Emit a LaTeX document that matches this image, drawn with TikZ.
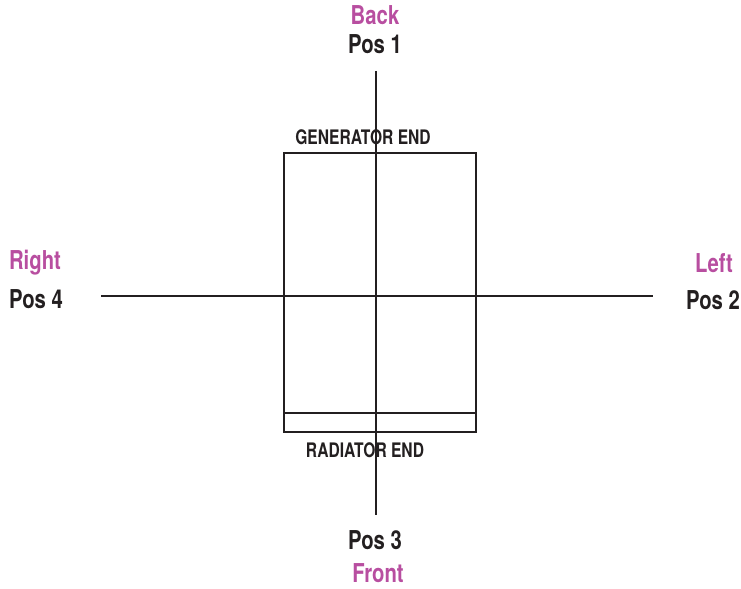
\documentclass[tikz,border=0pt]{standalone}
\usepackage{fontspec}
\setmainfont{TeX Gyre Heros}[FakeStretch=0.78]
\usetikzlibrary{positioning}
\definecolor{sidepink}{RGB}{184,78,160}
\definecolor{inkgray}{RGB}{35,31,32}

\begin{document}
\begin{tikzpicture}[
    x=0.75pt, y=-0.75pt,
    font=\bfseries,
    poslabel/.style={text=inkgray, font=\fontsize{19.5}{21}\selectfont\bfseries, inner sep=0pt},
    sidelabel/.style={text=sidepink, font=\fontsize{19.5}{21}\selectfont\bfseries, inner sep=0pt},
    endlabel/.style={text=inkgray, font=\fontsize{15}{17}\selectfont\bfseries, inner sep=0pt},
    axis/.style={draw=inkgray, line width=1.2pt},
    frame/.style={draw=inkgray, line width=1.2pt},
]
\useasboundingbox (0,0) rectangle (741,588);

% Engine outline
\node[frame, rectangle, minimum width=144pt, minimum height=209.25pt, inner sep=0pt, anchor=north west] (engine) at (283,152) {};
\coordinate (radtopL) at (283,413);
\coordinate (radtopR) at (475,413);
\draw[frame] (radtopL) -- (radtopR);

% Axis ends
\coordinate (topend) at (376,71);
\coordinate (botend) at (376,515);
\coordinate (leftend) at (101,296);
\coordinate (rightend) at (653,296);

\draw[axis] (topend) -- (botend);
\draw[axis] (leftend) -- (rightend);

% Labels
\node[endlabel] (gen) at (363,137) {GENERATOR END};
\node[endlabel] (rad) at (365,450) {RADIATOR END};

\node[poslabel] (pos1) at (375,44) {Pos 1};
\node[sidelabel] (back) at (375,15) {Back};
\node[poslabel] (pos3) at (375,540) {Pos 3};
\node[sidelabel] (front) at (378,573) {Front};
\node[poslabel] (pos4) at (36,299) {Pos 4};
\node[sidelabel] (right) at (35,263) {Right};
\node[poslabel] (pos2) at (713,300) {Pos 2};
\node[sidelabel] (left) at (714,263) {Left};

\end{tikzpicture}
\end{document}
